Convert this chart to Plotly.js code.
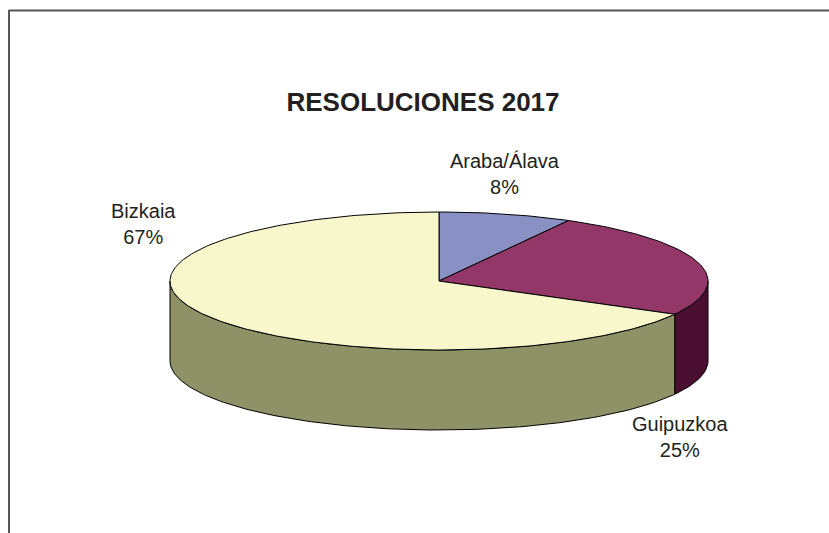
<!DOCTYPE html>
<html>
<head>
<meta charset="utf-8">
<script src="https://cdn.plot.ly/plotly-3.0.1.min.js"></script>
<style>html,body{margin:0;padding:0;background:#fff;}#chart{width:829px;height:533px;}</style>
</head>
<body>
<div id="chart"></div>
<script>
// ---- data ----
const categories = ['Araba/Álava', 'Guipuzkoa', 'Bizkaia'];
const values = [8, 25, 67];
const chartTitle = 'RESOLUCIONES 2017';

// ---- styles ----
const topColors = ['#8890C4', '#933769', '#F7F7CB'];
const sideColors = ['#5A6294', '#4A0F30', '#8E9266'];
const labelPos = [[505, 174], [680, 437], [143, 224]];

// ---- geometry (pixel-like axis space) ----
const cx = 439, cy = 281, rx = 269, ry = 69, depth = 80;
const total = values.reduce((a, b) => a + b, 0);
function pt(deg, dy) {
  const r = deg * Math.PI / 180;
  return [cx + rx * Math.sin(r), cy - ry * Math.cos(r) + (dy || 0)];
}
function arc(a, b, dy) {
  const pts = [];
  const n = Math.max(2, Math.ceil(Math.abs(b - a) / 1));
  for (let i = 0; i <= n; i++) pts.push(pt(a + (b - a) * i / n, dy));
  return pts;
}

const traces = [];
let cum = 0;
const angles = values.map(v => { const a = cum / total * 360; cum += v; return [a, cum / total * 360]; });

// side walls (front half: 90..270)
angles.forEach(([a, b], i) => {
  const s = Math.max(a, 90), e = Math.min(b, 270);
  if (e <= s) return;
  const top = arc(s, e, 0), bot = arc(e, s, depth);
  const pts = top.concat(bot); pts.push(top[0]);
  traces.push({
    type: 'scatter', mode: 'lines', fill: 'toself', fillcolor: sideColors[i],
    x: pts.map(p => p[0]), y: pts.map(p => p[1]),
    line: { color: '#000', width: 1 }, hoverinfo: 'skip', showlegend: false
  });
});

// top faces
angles.forEach(([a, b], i) => {
  const pts = [[cx, cy]].concat(arc(a, b, 0)); pts.push([cx, cy]);
  traces.push({
    type: 'scatter', mode: 'lines', fill: 'toself', fillcolor: topColors[i],
    x: pts.map(p => p[0]), y: pts.map(p => p[1]),
    line: { color: '#000', width: 1 }, hoverinfo: 'skip', showlegend: false
  });
});

const annotations = categories.map((c, i) => ({
  x: labelPos[i][0], y: labelPos[i][1], xref: 'x', yref: 'y',
  text: c + '<br>' + Math.round(values[i] / total * 100) + '%',
  showarrow: false, align: 'center',
  font: { family: 'Liberation Sans, Arial, sans-serif', size: 20, color: '#231F20' }
}));

const layout = {
  width: 829, height: 533,
  margin: { l: 0, r: 0, t: 0, b: 0 },
  paper_bgcolor: '#fff', plot_bgcolor: '#fff',
  title: {
    text: '<b>' + chartTitle + '</b>',
    x: 423 / 829, xanchor: 'center', xref: 'paper',
    y: 1 - 102 / 533, yanchor: 'middle', yref: 'paper',
    font: { family: 'Liberation Sans, Arial, sans-serif', size: 26, color: '#231F20' }
  },
  xaxis: { range: [0, 829], visible: false, fixedrange: true },
  yaxis: { range: [533, 0], visible: false, fixedrange: true },
  annotations: annotations,
  shapes: [
    { type: 'line', xref: 'paper', yref: 'paper', x0: 9 / 829, x1: 1, y0: 1 - 10.5 / 533, y1: 1 - 10.5 / 533, line: { color: '#555', width: 2 } },
    { type: 'line', xref: 'paper', yref: 'paper', x0: 9 / 829, x1: 9 / 829, y0: 1 - 10 / 533, y1: 0, line: { color: '#555', width: 2 } }
  ]
};

Plotly.newPlot('chart', traces, layout, { staticPlot: true });
</script>
</body>
</html>
